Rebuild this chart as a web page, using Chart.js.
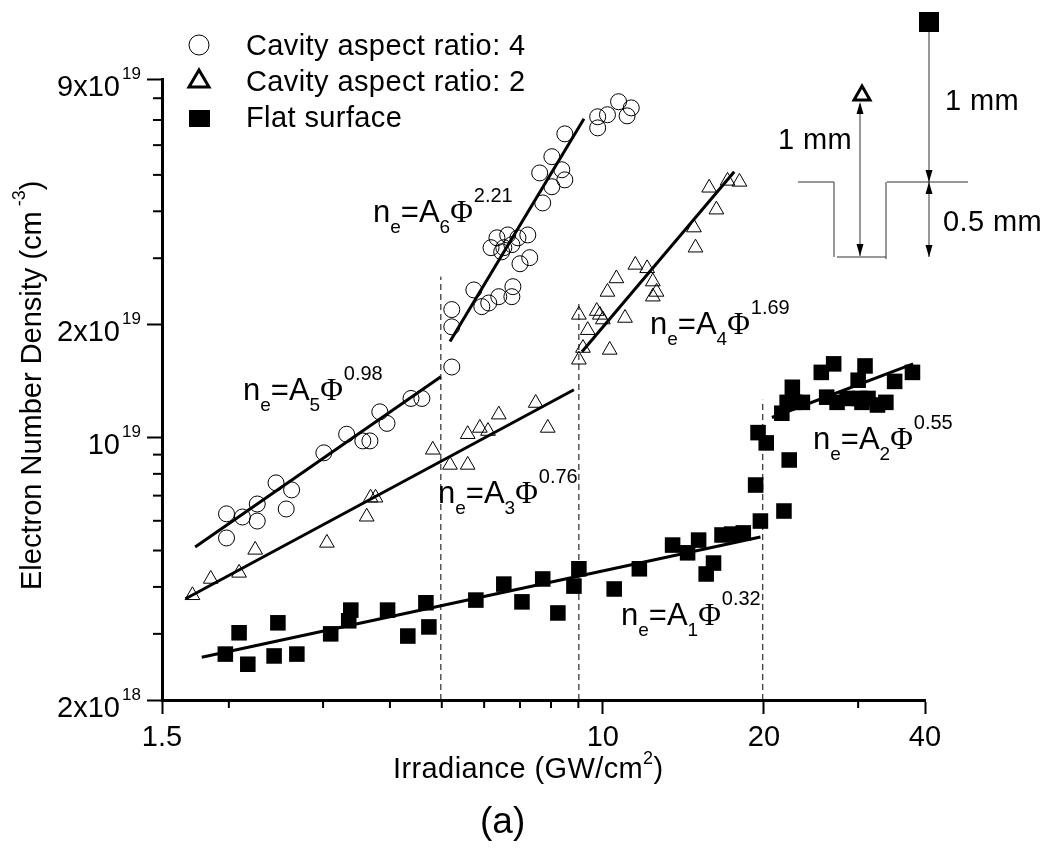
<!DOCTYPE html>
<html>
<head>
<meta charset="utf-8">
<script src="https://cdn.jsdelivr.net/npm/chart.js@4"></script>
<style>
body{ margin:0; background:#fff; }
canvas{ display:block; }
</style>
</head>
<body>
<canvas id="myChart" width="1046" height="848"></canvas>
<script>

// density values are in units of 1e18 cm-3, irradiance in GW/cm2

//------------------------------- cavity aspect ratio 4
const circle_x = [1.98,2.12,2.26,2.26,1.98,2.45,2.62,2.56,3.01,3.32,3.56,3.67,3.83,3.95,4.38,4.59,
    5.22,5.22,5.22,5.74,5.94,6.12,6.39,6.79,6.76,7.00,7.30,6.18,6.34,6.64,6.53,6.76,6.94,7.24,6.47,
    7.72,8.03,7.62,8.49,8.38,8.03,8.49,9.78,9.78,10.2,10.7,11.3,11.1];
const circle_y = [6.26,6.14,6.65,5.99,5.40,7.57,7.25,6.45,9.10,10.2,9.79,9.79,11.7,10.9,12.7,12.7,
    15.4,19.7,21.9,24.7,22.3,22.8,23.7,25.2,23.7,29.0,30.1,32.0,34.0,34.6,32.0,32.6,34.0,34.6,31.2,
    42.1,46.5,50.6,48.5,51.6,55.9,64.3,66.7,71.4,72.3,78.3,75.4,71.8];

//------------------------------- cavity aspect ratio 2
const triangle_x = [1.71,1.85,2.09,2.24,3.05,3.62,3.68,3.76,4.81,5.18,5.59,5.59,5.89,6.10,6.39,7.49,7.89,
    9.02,9.18,9.37,9.02,9.74,9.87,10.0,10.3,11.0,10.2,10.6,11.5,12.1,12.4,12.6,12.4,14.8,14.9,15.8,16.3,17.1,18.0];
const triangle_y = [3.80,4.20,4.36,5.02,5.24,6.15,6.91,6.91,9.27,8.45,8.45,10.2,10.6,10.4,11.5,12.35,10.6,
    16.1,17.3,19.3,21.2,21.7,21.2,20.6,17.1,20.8,24.4,26.5,28.8,28.2,26.0,24.4,23.7,36.2,32.0,46.2,40.4,48.2,47.9];

//------------------------------- flat surface
const square_x = [1.97,2.09,2.17,2.47,2.43,2.68,3.10,3.38,3.35,3.96,4.32,4.67,4.73,5.79,6.53,7.06,7.72,8.24,8.83,9.02,
    10.5,11.7,13.5,14.4,15.1,16.1,15.6,16.7,17.4,18.3,19.7,19.3,19.5,20.2,22.3,21.8,21.6,22.1,22.8,23.6,22.6,
    25.6,27.0,26.2,27.4,28.6,30.2,31.3,30.5,32.6,33.8,30.0,30.9,35.1,37.9];
const square_y = [2.65,3.02,2.49,3.21,2.62,2.65,3.00,3.47,3.25,3.47,2.96,3.63,3.13,3.69,4.07,3.65,4.20,3.41,4.02,4.47,
    3.95,4.47,5.17,4.93,5.33,4.63,4.33,5.50,5.53,5.57,5.99,7.47,10.3,9.67,8.71,6.37,11.6,12.4,12.4,12.4,13.6,
    14.9,15.7,12.8,12.4,12.7,12.7,12.7,12.4,12.2,12.4,14.2,15.5,14.1,14.9];

//------------------------------- fitted lines, two ends each
const fit_a1 = [[1.78,2.60],[19.7,5.43]];
const fit_a2 = [[20.7,11.3],[38.0,15.7]];
const fit_a3 = [[1.66,3.72],[8.83,13.4]];
const fit_a4 = [[9.14,16.9],[17.6,51.0]];
const fit_a5 = [[1.73,5.11],[4.98,14.5]];
const fit_a6 = [[5.18,18.0],[9.22,70.5]];

//------------------------------- dashed guides
const guide_a = [[4.98,2],[4.98,26.8]];
const guide_b = [[9.02,2],[9.02,23.0]];
const guide_c = [[19.9,2],[19.9,12.6]];

//------------------------------- axes
const x_ticks = [1.5,10,20,40];
const x_minor = [2,3,4,5,6,7,8,9,30];
const y_ticks = [2,10,20,90];
const y_tick_labels = ["2x10","10","2x10","9x10"];
const y_tick_exps = ["18","19","19","19"];
const y_minor = [3,4,5,6,7,8,9,30,40,50,60,70,80];

const legend_names = ["Cavity aspect ratio: 4","Cavity aspect ratio: 2","Flat surface"];

const eq_labels = [
    {x:243, y:400, sub:"5", exp:"0.98"},
    {x:373, y:222, sub:"6", exp:"2.21"},
    {x:650, y:334, sub:"4", exp:"1.69"},
    {x:438, y:503, sub:"3", exp:"0.76"},
    {x:621, y:625, sub:"1", exp:"0.32"},
    {x:813, y:449, sub:"2", exp:"0.55"}
];

const FONT = "'Liberation Sans', Arial, sans-serif";

function to_points(xs, ys){
    let out = [];
    for (let i = 0; i < xs.length; i++) {
        out.push({x:xs[i], y:ys[i]});
    }
    return out;
}

function pair_points(pairs){
    return pairs.map(p => ({x:p[0], y:p[1]}));
}

function fit_set(pairs){
    return {
        data: pair_points(pairs),
        showLine: true,
        borderColor: "#000",
        borderWidth: 3,
        pointRadius: 0,
        order: 1
    };
}

function guide_set(pairs){
    return {
        data: pair_points(pairs),
        showLine: true,
        borderColor: "#000",
        borderWidth: 1,
        borderDash: [6,4],
        pointRadius: 0,
        order: 2
    };
}

// writes pieces of text one after the other, size of each piece given
function text_run(ctx, x, y, parts){
    for (let i = 0; i < parts.length; i++) {
        let p = parts[i];
        ctx.font = p.size + "px " + (p.font || FONT);
        ctx.fillText(p.text, x, y + (p.dy || 0));
        x += ctx.measureText(p.text).width + (p.gap || 0);
    }
    return x;
}

function arrow(ctx, x, y, dir){
    ctx.beginPath();
    ctx.moveTo(x, y);
    ctx.lineTo(x-3.5, y-dir*12);
    ctx.lineTo(x+3.5, y-dir*12);
    ctx.closePath();
    ctx.fill();
}

function seg(ctx, x1, y1, x2, y2){
    ctx.beginPath();
    ctx.moveTo(x1, y1);
    ctx.lineTo(x2, y2);
    ctx.stroke();
}

function draw_minor_ticks(chart){
    let ctx = chart.ctx;
    let xs = chart.scales.x;
    let ys = chart.scales.y;
    ctx.strokeStyle = "#000";
    ctx.lineWidth = 2;
    for (let i = 0; i < x_minor.length; i++) {
        let px = xs.getPixelForValue(x_minor[i]);
        seg(ctx, px, chart.chartArea.bottom, px, chart.chartArea.bottom+8);
    }
    for (let i = 0; i < y_minor.length; i++) {
        let py = ys.getPixelForValue(y_minor[i]);
        seg(ctx, chart.chartArea.left-9, py, chart.chartArea.left, py);
    }
}

function draw_axis_text(chart){
    let ctx = chart.ctx;
    let ys = chart.scales.y;
    ctx.fillStyle = "#000";
    ctx.textAlign = "left";
    ctx.textBaseline = "alphabetic";

    for (let i = 0; i < y_ticks.length; i++) {
        ctx.font = "17px " + FONT;
        ctx.fillText(y_tick_exps[i], 122, ys.getPixelForValue(y_ticks[i]));
    }

    ctx.letterSpacing = "0.4px";
    text_run(ctx, 393, 778, [
        {text:"Irradiance (GW/cm", size:29},
        {text:"2", size:18, dy:-14},
        {text:")", size:29}
    ]);
    ctx.letterSpacing = "0px";

    ctx.font = "37px " + FONT;
    ctx.fillText("(a)", 480, 833);

    ctx.save();
    ctx.translate(41, 590);
    ctx.rotate(-Math.PI/2);
    text_run(ctx, 0, 0, [
        {text:"Electron Number Density (cm", size:29},
        {text:" -3", size:18, dy:-16},
        {text:")", size:29}
    ]);
    ctx.restore();
}

function draw_legend(chart){
    let ctx = chart.ctx;
    ctx.fillStyle = "#000";
    ctx.strokeStyle = "#000";

    ctx.lineWidth = 1;
    ctx.beginPath();
    ctx.arc(199, 45, 10, 0, Math.PI*2);
    ctx.stroke();

    ctx.lineWidth = 3;
    ctx.beginPath();
    ctx.moveTo(199, 70);
    ctx.lineTo(209, 87);
    ctx.lineTo(189, 87);
    ctx.closePath();
    ctx.stroke();
    ctx.fillRect(189, 110, 21, 17);

    ctx.letterSpacing = "0.4px";
    ctx.font = "29px " + FONT;
    ctx.fillText(legend_names[0], 246, 55);
    ctx.fillText(legend_names[1], 246, 91);
    ctx.fillText(legend_names[2], 246, 127);
    ctx.letterSpacing = "0px";
}

function draw_equations(chart){
    let ctx = chart.ctx;
    ctx.fillStyle = "#000";
    for (let i = 0; i < eq_labels.length; i++) {
        let e = eq_labels[i];
        text_run(ctx, e.x, e.y, [
            {text:"n", size:31},
            {text:"e", size:19, dy:11},
            {text:"=A", size:31},
            {text:e.sub, size:19, dy:11},
            {text:"\u03A6", size:31, font:"'Liberation Serif', serif", gap:1},
            {text:e.exp, size:20, dy:-20}
        ]);
    }
}

// the small sketch of the cavity top right
function draw_inset(chart){
    let ctx = chart.ctx;
    ctx.fillStyle = "#000";
    ctx.fillRect(919, 12, 20, 20);

    ctx.strokeStyle = "#000";
    ctx.lineWidth = 3;
    ctx.beginPath();
    ctx.moveTo(862, 86);
    ctx.lineTo(870, 100);
    ctx.lineTo(854, 100);
    ctx.closePath();
    ctx.stroke();

    ctx.strokeStyle = "#333";
    ctx.lineWidth = 1;
    seg(ctx, 929, 32, 929, 257);
    seg(ctx, 860, 104, 860, 256);
    seg(ctx, 798, 182, 834, 182);
    seg(ctx, 834, 182, 834, 257);
    seg(ctx, 837, 257, 886, 257);
    seg(ctx, 886, 182, 886, 259);
    seg(ctx, 887, 182, 968, 182);

    arrow(ctx, 860, 102, -1);
    arrow(ctx, 860, 256, 1);
    arrow(ctx, 929, 182, 1);
    arrow(ctx, 929, 182, -1);
    arrow(ctx, 929, 257, 1);

    ctx.letterSpacing = "0.4px";
    ctx.font = "29px " + FONT;
    ctx.fillText("1 mm", 945, 110);
    ctx.fillText("1 mm", 778, 149);
    ctx.fillText("0.5 mm", 943, 231);
    ctx.letterSpacing = "0px";
}

const decor = {
    id: "decor",
    afterDraw(chart){
        draw_minor_ticks(chart);
        draw_axis_text(chart);
        draw_legend(chart);
        draw_equations(chart);
        draw_inset(chart);
    }
};

const ctx = document.getElementById("myChart");

const my_chart = new Chart(ctx, {
    type: "scatter",
    plugins: [decor],
    data: {
        datasets: [
            {
                data: to_points(circle_x, circle_y),
                pointStyle: "circle",
                pointRadius: 8,
                pointBorderWidth: 1,
                pointBorderColor: "#000",
                pointBackgroundColor: "rgba(0,0,0,0)",
                order: 3
            },
            {
                data: to_points(triangle_x, triangle_y),
                pointStyle: "triangle",
                pointRadius: 8.5,
                pointBorderWidth: 1,
                pointBorderColor: "#000",
                pointBackgroundColor: "rgba(0,0,0,0)",
                order: 3
            },
            {
                data: to_points(square_x, square_y),
                pointStyle: "rect",
                pointRadius: 11,
                pointBorderWidth: 0,
                pointBackgroundColor: "#000",
                order: 3
            },
            fit_set(fit_a1), fit_set(fit_a2), fit_set(fit_a3),
            fit_set(fit_a4), fit_set(fit_a5), fit_set(fit_a6),
            guide_set(guide_a), guide_set(guide_b), guide_set(guide_c)
        ]
    },
    options: {
        responsive: false,
        animation: false,
        layout: { padding: { top:79, right:121, left:0, bottom:0 } },
        plugins: { legend: { display:false }, tooltip: { enabled:false } },
        scales: {
            x: {
                type: "logarithmic",
                min: 1.5,
                max: 40,
                afterFit(scale){ scale.height = 148; },
                afterBuildTicks(scale){ scale.ticks = x_ticks.map(v => ({value:v})); },
                border: { color:"#000", width:3 },
                grid: { drawOnChartArea:false, tickLength:14, tickColor:"#000", tickWidth:2 },
                ticks: {
                    color: "#000",
                    padding: 7,
                    maxRotation: 0,
                    autoSkip: false,
                    font: { family:FONT, size:29 },
                    callback: v => String(v)
                }
            },
            y: {
                type: "logarithmic",
                min: 2,
                max: 90,
                afterFit(scale){ scale.width = 162; },
                afterBuildTicks(scale){ scale.ticks = y_ticks.map(v => ({value:v})); },
                border: { color:"#000", width:3 },
                grid: { drawOnChartArea:false, tickLength:15, tickColor:"#000", tickWidth:2 },
                ticks: {
                    color: "#000",
                    padding: 27,
                    labelOffset: 9,
                    autoSkip: false,
                    font: { family:FONT, size:29 },
                    callback: v => y_tick_labels[y_ticks.indexOf(v)]
                }
            }
        }
    }
});

</script>
</body>
</html>
